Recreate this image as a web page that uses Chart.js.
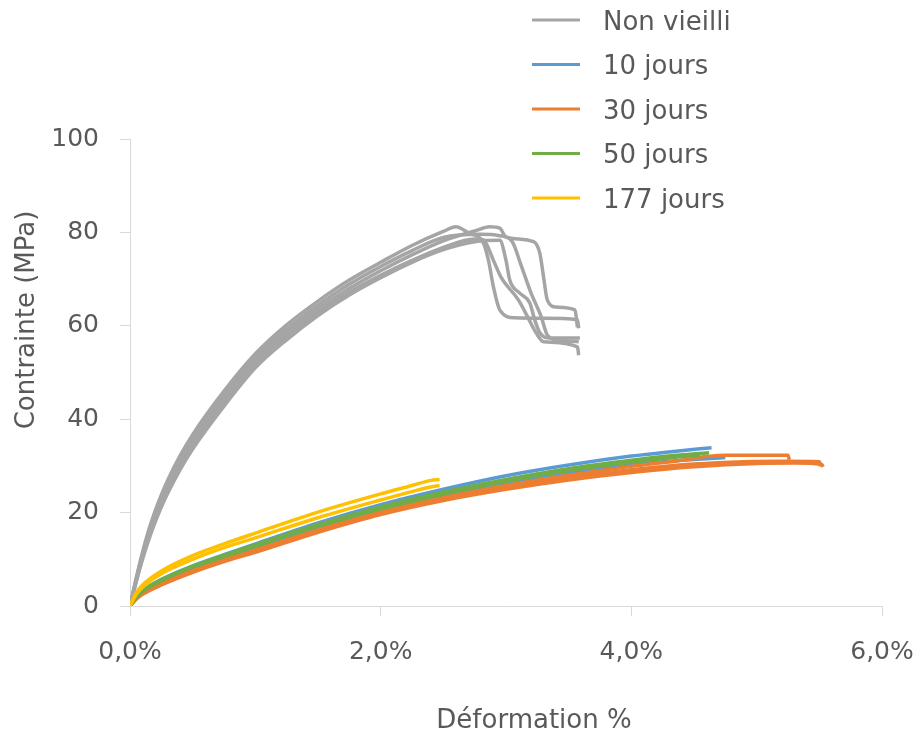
<!DOCTYPE html>
<html>
<head>
<meta charset="utf-8">
<script src="https://cdn.jsdelivr.net/npm/chart.js@4"></script>
<style>
  body { margin: 0; background: #fff; }
  #wrap { width: 917px; height: 731px; position: relative; }
</style>
</head>
<body>
<div id="wrap"><canvas id="chart"></canvas></div>
<script>
// strain in %, stress in MPa
const groupLabels = ['Non vieilli', '10 jours', '30 jours', '50 jours', '177 jours'];
const groupColors = ['#A5A5A5', '#5B9BD5', '#ED7D31', '#70AD47', '#FFC000'];
const xTicks = [0, 2, 4, 6];
const yTicks = [0, 20, 40, 60, 80, 100];

const nonVieilli1 = [[0,0],[0.05,6],[0.1,11.5],[0.15,16.3],[0.2,20.3],[0.25,23.8],[0.3,26.9],[0.4,32.2],[0.5,36.7],[0.75,46],[1,54],[1.25,60.2],[1.5,65.3],[1.75,69.8],[2,73.6],[2.25,77.2],[2.5,80.2],[2.6,81.2],[2.7,79.9],[2.82,77.7],[2.86,74],[2.9,68.3],[2.95,63.4],[3.07,61.7],[3.3,61.6],[3.57,61.3],[3.58,59.5]];
const nonVieilli2 = [[0,0],[0.05,5.2],[0.1,10],[0.15,14.2],[0.2,17.9],[0.25,21.2],[0.3,24.1],[0.4,29.2],[0.5,33.6],[0.75,42.8],[1,51],[1.25,57],[1.5,62.2],[1.75,66.6],[2,70.3],[2.25,73.6],[2.5,76.3],[2.75,78],[2.95,78.3],[3,74],[3.03,69.8],[3.11,67],[3.19,64.9],[3.23,61.2],[3.27,58.5],[3.35,57.4],[3.59,57.4]];
const nonVieilli3 = [[0,0],[0.05,5.6],[0.1,10.8],[0.15,15.3],[0.2,19.2],[0.25,22.6],[0.3,25.6],[0.4,30.8],[0.5,35.2],[0.75,44.3],[1,52.4],[1.25,58.5],[1.5,63.6],[1.75,68],[2,71.8],[2.25,75.2],[2.5,78.2],[2.75,80.3],[2.87,81.2],[2.95,80.9],[3,79],[3.22,78],[3.27,75.5],[3.3,70.4],[3.33,65.5],[3.4,64],[3.55,63.4],[3.57,59.7]];
const nonVieilli4 = [[0,0],[0.05,5.4],[0.1,10.4],[0.15,14.7],[0.2,18.5],[0.25,21.8],[0.3,24.8],[0.4,29.9],[0.5,34.3],[0.75,43.6],[1,51.7],[1.25,57.8],[1.5,62.9],[1.75,67.2],[2,70.8],[2.25,74],[2.5,76.8],[2.75,78.6],[2.82,78.4],[2.9,74],[2.96,70.4],[3.1,65.5],[3.19,61],[3.24,58.5],[3.3,56.6],[3.57,55.5],[3.58,53.7]];
const nonVieilli5 = [[0,0],[0.05,5.8],[0.1,11.2],[0.15,15.9],[0.2,19.8],[0.25,23.3],[0.3,26.3],[0.4,31.6],[0.5,36],[0.75,45.2],[1,53.2],[1.25,59.3],[1.5,64.4],[1.75,68.9],[2,72.7],[2.25,76.1],[2.5,78.9],[2.79,79.6],[2.95,79.3],[3.05,78],[3.12,73],[3.2,67],[3.28,62],[3.33,58],[3.4,57],[3.58,56.6]];

const jours10_1 = [[0,0],[0.05,2],[0.1,3.3],[0.25,5.7],[0.5,8.6],[0.75,11],[1,13.3],[1.5,17.8],[2,21.7],[2.5,25],[3,27.9],[3.5,30.2],[4,32.1],[4.3,33],[4.64,33.9]];
const jours10_2 = [[0,0],[0.05,1.8],[0.1,3],[0.25,5.3],[0.5,8.1],[0.75,10.5],[1,12.6],[1.5,16.9],[2,20.6],[2.5,23.6],[3,26.2],[3.5,28.5],[4,30.2],[4.4,31.2],[4.75,31.8]];

const jours30_1 = [[0,0],[0.05,1.5],[0.1,2.5],[0.25,4.5],[0.5,7.2],[0.75,9.5],[1,11.5],[1.5,15.8],[2,19.6],[2.5,22.6],[3,25],[3.5,27],[4,28.6],[4.5,29.8],[5,30.5],[5.3,30.6],[5.52,30.3],[5.53,29.8]];
const jours30_2 = [[0,0],[0.05,1.6],[0.1,2.7],[0.25,4.8],[0.5,7.6],[0.75,9.9],[1,12],[1.5,16.3],[2,20.1],[2.5,23.2],[3,25.8],[3.5,28],[4,29.9],[4.4,31.2],[4.6,32],[4.75,32.3],[5,32.3],[5.25,32.3],[5.26,31.3]];
const jours30_3 = [[0,0],[0.05,1.5],[0.1,2.6],[0.25,4.6],[0.5,7.3],[0.75,9.7],[1,11.7],[1.5,16],[2,19.8],[2.5,22.9],[3,25.4],[3.5,27.5],[4,29.2],[4.5,30.4],[4.9,30.9],[5.2,31],[5.5,30.9],[5.51,29.9]];

const jours50_1 = [[0,0],[0.05,1.9],[0.1,3.2],[0.25,5.6],[0.5,8.5],[0.75,10.9],[1,13.1],[1.5,17.4],[2,21.2],[2.5,24.4],[3,27.1],[3.5,29.4],[4,31.2],[4.3,32.1],[4.62,32.8]];
const jours50_2 = [[0,0],[0.05,1.8],[0.1,3.1],[0.25,5.4],[0.5,8.3],[0.75,10.6],[1,12.8],[1.5,17.1],[2,20.8],[2.5,24],[3,26.7],[3.5,29],[4,30.8],[4.3,31.7],[4.55,32.3]];

const jours177_1 = [[0,0],[0.05,2.8],[0.1,4.5],[0.25,7.5],[0.5,10.8],[0.75,13.3],[1,15.6],[1.5,20.1],[2,24],[2.25,25.8],[2.4,26.9],[2.47,27.1]];
const jours177_2 = [[0,0],[0.05,2.5],[0.1,4],[0.25,6.9],[0.5,10],[0.75,12.5],[1,14.6],[1.5,18.9],[2,22.7],[2.25,24.5],[2.4,25.5],[2.47,25.8]];

const groups = [
    [nonVieilli1, nonVieilli2, nonVieilli3, nonVieilli4, nonVieilli5],
    [jours10_1, jours10_2],
    [jours30_1, jours30_2, jours30_3],
    [jours50_1, jours50_2],
    [jours177_1, jours177_2]
];

const FONT = 'DejaVu Sans';
const TEXT = '#595959';
const AXIS = '#D9D9D9';

function buildDatasets() {
    const sets = [];
    groups.forEach((curves, g) => {
        curves.forEach(curve => {
            sets.push({
                label: groupLabels[g],
                data: curve.map(([x, y]) => ({ x, y })),
                borderColor: groupColors[g],
                borderWidth: 3.5,
                showLine: true,
                pointRadius: 0,
                cubicInterpolationMode: 'monotone',
                order: 10 - g
            });
        });
    });
    return sets;
}

// legend in one column at the top right, plus the two axis titles
const extrasPlugin = {
    id: 'extras',
    afterDraw(chart) {
        const ctx = chart.ctx;
        ctx.save();
        ctx.font = `26px "${FONT}"`;
        ctx.fillStyle = TEXT;
        ctx.textBaseline = 'alphabetic';
        groupLabels.forEach((lab, i) => {
            const y = 20 + i * 44.5;
            ctx.strokeStyle = groupColors[i];
            ctx.lineWidth = 3;
            ctx.beginPath();
            ctx.moveTo(532, y);
            ctx.lineTo(580, y);
            ctx.stroke();
            ctx.textAlign = 'left';
            ctx.fillText(lab, 603, y + 9.5);
        });

        ctx.textAlign = 'center';
        ctx.fillText('Déformation %', 534, 727.5);

        ctx.translate(33.5, 320);
        ctx.rotate(-Math.PI / 2);
        ctx.fillText('Contrainte (MPa)', 0, 0);
        ctx.restore();
    }
};

new Chart(document.getElementById('chart'), {
    type: 'scatter',
    data: { datasets: buildDatasets() },
    options: {
        responsive: true,
        maintainAspectRatio: false,
        animation: false,
        layout: { padding: { top: 139, right: 35, left: 0, bottom: 0 } },
        plugins: { legend: { display: false }, tooltip: { enabled: false } },
        scales: {
            x: {
                type: 'linear',
                min: xTicks[0],
                max: xTicks[xTicks.length - 1],
                afterBuildTicks: s => { s.ticks = xTicks.map(v => ({ value: v })); },
                afterFit: s => { s.height = 125; s.paddingLeft = 0; s.paddingRight = 0; },
                ticks: {
                    color: TEXT,
                    font: { family: FONT, size: 25 },
                    padding: 21,
                    maxRotation: 0,
                    callback: v => v.toFixed(1).replace('.', ',') + '%'
                },
                grid: { drawOnChartArea: false, tickLength: 10, color: AXIS },
                border: { color: AXIS }
            },
            y: {
                min: yTicks[0],
                max: yTicks[yTicks.length - 1],
                afterBuildTicks: s => { s.ticks = yTicks.map(v => ({ value: v })); },
                afterFit: s => { s.width = 130; s.paddingTop = 0; s.paddingBottom = 0; },
                ticks: {
                    color: TEXT,
                    font: { family: FONT, size: 25 },
                    padding: 21
                },
                grid: { drawOnChartArea: false, tickLength: 10, color: AXIS },
                border: { color: AXIS }
            }
        }
    },
    plugins: [extrasPlugin]
});
</script>
</body>
</html>
